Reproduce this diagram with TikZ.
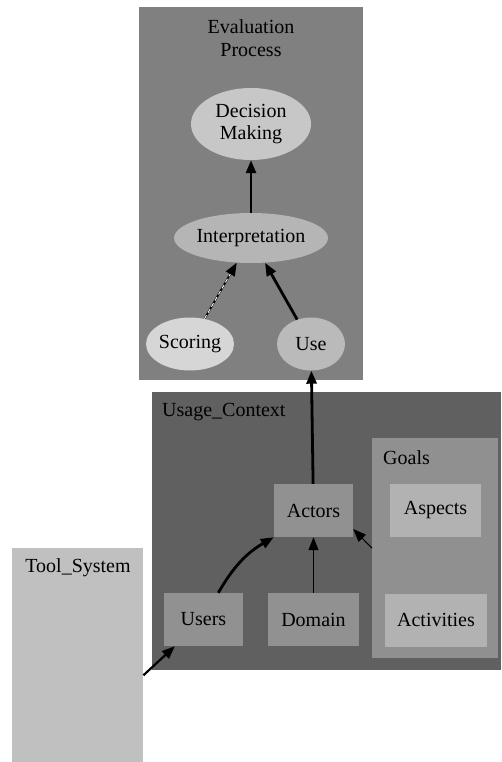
\documentclass[tikz,border=0pt]{standalone}
\usepackage{fontspec}
\setmainfont{Liberation Serif}
\usetikzlibrary{positioning,shapes.geometric,arrows.meta}

\definecolor{evalgray}{HTML}{808080}
\definecolor{usagegray}{HTML}{606060}
\definecolor{goalgray}{HTML}{909090}
\definecolor{toolgray}{HTML}{C0C0C0}

\begin{document}
\begin{tikzpicture}[x=1pt,y=-1pt,
		font=\fontsize{20}{22.5}\selectfont,
		cluster/.style={rectangle,inner sep=0pt,anchor=north west},
		oval/.style={ellipse,inner sep=0pt,align=center},
		box/.style={rectangle,inner sep=0pt,minimum height=53pt},
		title/.style={inner sep=0pt,align=center},
		tip/.style={-{Triangle[length=13pt,width=10pt]}},
		heavy/.style={tip,line width=2.8pt},
		light/.style={tip,line width=1pt},
		dashy/.style={draw=white,line width=0.9pt,dash pattern=on 4pt off 3pt,shorten >=13pt}]
		\useasboundingbox (0,0) rectangle (501,762);

		% clusters
		\node[cluster,fill=evalgray,minimum width=224pt,minimum height=373pt]	(eval)	at (139,7)		{};
		\node[cluster,fill=usagegray,minimum width=349pt,minimum height=278pt]	(usage)	at (152,392)	{};
		\node[cluster,fill=goalgray,minimum width=126pt,minimum height=220pt]	(goals)	at (372,438)	{};
		\node[cluster,fill=toolgray,minimum width=131pt,minimum height=214pt]	(tool)	at (12,548)		{};

		\node[title]				(evaltitle)		at (251,38)		{Evaluation\\Process};
		\node[title,anchor=west]	(usagetitle)	at (162,412)	{Usage\_Context};
		\node[title,anchor=west]	(goalstitle)	at (383,458)	{Goals};
		\node[title]				(tooltitle)		at (78,568)		{Tool\_System};

		% evaluation process
		\node[oval,fill=black!22,minimum width=120pt,minimum height=72pt]	(decision)	at (251,124)	{Decision\\Making};
		\node[oval,fill=black!29,minimum width=148pt,minimum height=50pt]	(interp)	at (251,238)	{Interpretation};
		\node[oval,fill=black!16,minimum width=80pt,minimum height=53pt]	(scoring)	at (190,344)	{Scoring};
		\node[oval,fill=black!27,minimum width=68pt,minimum height=53pt]	(use)		at (311,344)	{Use};

		% usage context
		\node[box,fill=black!43,minimum width=79pt]		(actors)		at (313.5,510.5)	{Actors};
		\node[box,fill=black!43,minimum width=79pt]		(users)			at (203.5,619.5)	{Users};
		\node[box,fill=black!43,minimum width=91pt]		(domain)		at (313.5,619.5)	{Domain};
		\node[box,fill=black!30,minimum width=91pt]		(aspects)		at (435.5,510.5)	{Aspects};
		\node[box,fill=black!30,minimum width=102pt]	(activities)	at (436,620)		{Activities};

		\draw[heavy] (interp) -- (decision);
		\draw[tip,line width=1.8pt] (scoring) -- (interp);
		\draw[dashy] (scoring) -- (interp);
		\draw[heavy] (use) -- (interp);
		\draw[heavy] (actors) -- (use);
		\draw[heavy] (users.61) to[bend left=15] (actors.south west);
		\draw[light] (domain) -- (actors);
		\draw[light] (goals.west) -- (actors.-25);
		\draw[heavy,line width=2.2pt] (tool.-17) -- (users.223);
	\end{tikzpicture}
\end{document}
